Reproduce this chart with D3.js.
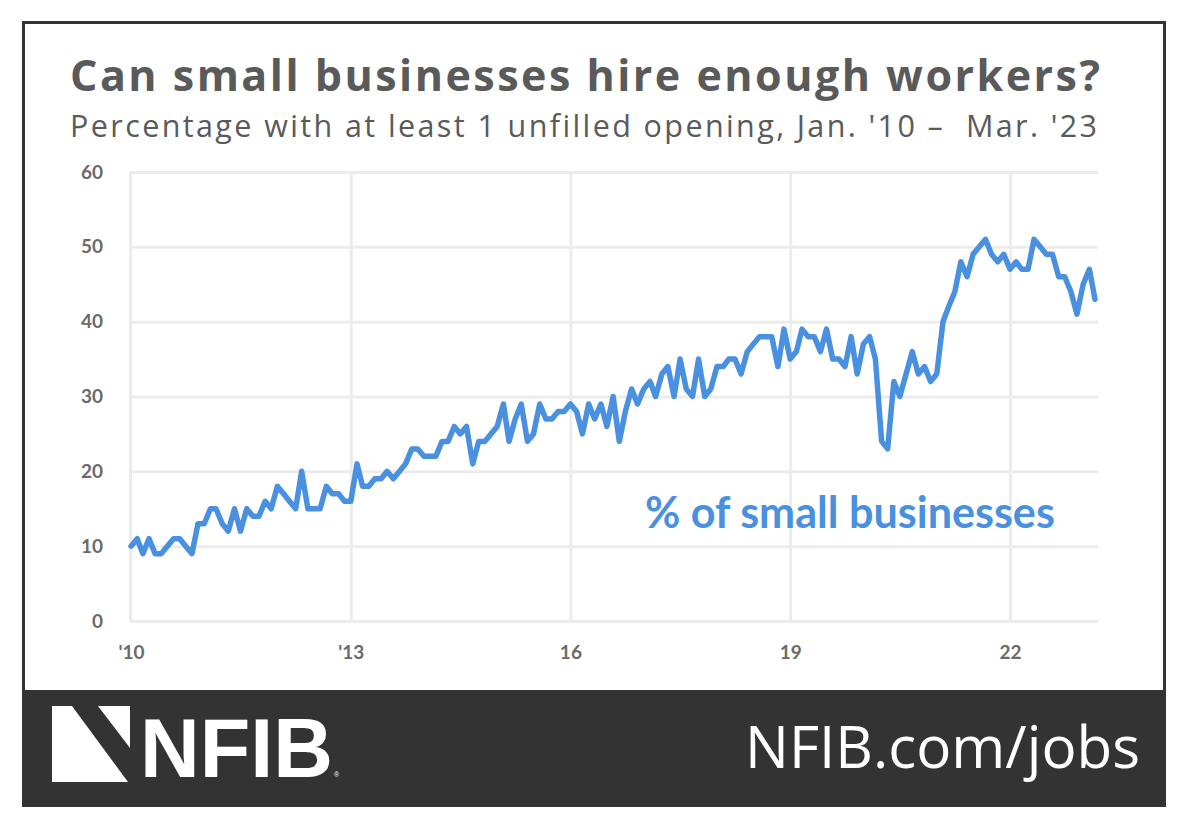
<!DOCTYPE html>
<html>
<head>
<meta charset="utf-8">
<script src="https://cdn.jsdelivr.net/npm/d3@7"></script>
<style>
  html, body { margin: 0; padding: 0; background: #ffffff; }
  svg { display: block; }
  text { white-space: pre; }
</style>
</head>
<body>
<svg id="chart" width="1182" height="822"></svg>
<script>
// ---- Data (monthly, Jan 2010 – Mar 2023) ----
const startYear = 2010;
const values2010 = [10, 11, 9, 11, 9, 9, 10, 11, 11, 10, 9, 13];
const values2011 = [13, 15, 15, 13, 12, 15, 12, 15, 14, 14, 16, 15];
const values2012 = [18, 17, 16, 15, 20, 15, 15, 15, 18, 17, 17, 16];
const values2013 = [16, 21, 18, 18, 19, 19, 20, 19, 20, 21, 23, 23];
const values2014 = [22, 22, 22, 24, 24, 26, 25, 26, 21, 24, 24, 25];
const values2015 = [26, 29, 24, 27, 29, 24, 25, 29, 27, 27, 28, 28];
const values2016 = [29, 28, 25, 29, 27, 29, 26, 30, 24, 28, 31, 29];
const values2017 = [31, 32, 30, 33, 34, 30, 35, 31, 30, 35, 30, 31];
const values2018 = [34, 34, 35, 35, 33, 36, 37, 38, 38, 38, 34, 39];
const values2019 = [35, 36, 39, 38, 38, 36, 39, 35, 35, 34, 38, 33];
const values2020 = [37, 38, 35, 24, 23, 32, 30, 33, 36, 33, 34, 32];
const values2021 = [33, 40, 42, 44, 48, 46, 49, 50, 51, 49, 48, 49];
const values2022 = [47, 48, 47, 47, 51, 50, 49, 49, 46, 46, 44, 41];
const values2023 = [45, 47, 43];

const seriesValues = [].concat(values2010, values2011, values2012, values2013, values2014,
  values2015, values2016, values2017, values2018, values2019, values2020, values2021,
  values2022, values2023);

const yTicks = [0, 10, 20, 30, 40, 50, 60];
const xTickYears = [2013, 2016, 2019, 2022];
const xTickLabels = ["'10", "'13", "16", "19", "22"];

const titleText = "Can small businesses hire enough workers?";
const subtitleText = "Percentage with at least 1 unfilled opening, Jan. '10 \u2013  Mar. '23";
const seriesLabel = "% of small businesses";
const footerUrl = "NFIB.com/jobs";
const logoText = "NFIB";

// ---- Build ----
const data = seriesValues.map((v, i) => ({
  date: new Date(startYear + Math.floor(i / 12), i % 12, 1),
  value: v
}));

const svg = d3.select("#chart");
const gray = "#5a5a5a";
const blue = "#4a90e0";
const dark = "#333333";

// frame
svg.append("rect").attr("x", 23.5).attr("y", 22.5).attr("width", 1141).attr("height", 783)
  .attr("fill", "#ffffff").attr("stroke", dark).attr("stroke-width", 3);
svg.append("rect").attr("x", 22).attr("y", 690).attr("width", 1144).attr("height", 117)
  .attr("fill", dark);

const plotLeft = 130, plotRight = 1098, plotTop = 172, plotBottom = 621;

const x = d3.scaleTime()
  .domain([new Date(2010, 0, 1), new Date(2023, 2, 1)])
  .range([131, 1095]);
const y = d3.scaleLinear().domain([0, 60]).range([plotBottom, plotTop]);

function fitText(sel, targetWidth) {
  const node = sel.node();
  let fs = parseFloat(sel.attr("font-size"));
  const w = node.getComputedTextLength();
  if (w > 0) sel.attr("font-size", (fs * targetWidth / w).toFixed(2));
  return sel;
}
function spaceText(sel, targetWidth) {
  const node = sel.node();
  const w = node.getComputedTextLength();
  const n = sel.text().length;
  if (w > 0 && n > 1) sel.attr("letter-spacing", ((targetWidth - w) / (n - 1)).toFixed(3));
  return sel;
}

// y grid + labels
const yAxis = d3.axisLeft(y)
  .tickValues(yTicks)
  .tickSize(-(plotRight - plotLeft))
  .tickPadding(27)
  .tickFormat(d3.format("d"));
const gy = svg.append("g").attr("transform", `translate(${plotLeft},0)`).call(yAxis);
gy.select(".domain").remove();
gy.selectAll(".tick line").attr("stroke", "#ececec").attr("stroke-width", 3);
gy.selectAll(".tick text")
  .attr("fill", "#6a6a6a").attr("font-family", "Lato, 'Open Sans', sans-serif")
  .attr("font-weight", "bold").attr("font-size", 19);

// x grid + labels
const xTickDates = [new Date(2010, 0, 1)].concat(xTickYears.map(yr => new Date(yr, 0, 1)));
const xAxis = d3.axisBottom(x)
  .tickValues(xTickDates)
  .tickSize(-(plotBottom - plotTop))
  .tickPadding(25)
  .tickFormat((d, i) => xTickLabels[i]);
const gx = svg.append("g").attr("transform", `translate(0,${plotBottom})`).call(xAxis);
gx.select(".domain").remove();
gx.selectAll(".tick line").attr("stroke", "#ececec").attr("stroke-width", 3);
gx.selectAll(".tick").filter((d, i) => i === 0).select("line")
  .attr("transform", `translate(${plotLeft - x(xTickDates[0])},0)`);
gx.selectAll(".tick text")
  .attr("fill", "#6a6a6a").attr("font-family", "Lato, 'Open Sans', sans-serif")
  .attr("font-weight", "bold").attr("font-size", 19);

// line
const line = d3.line().x(d => x(d.date)).y(d => y(d.value));
svg.append("path").datum(data)
  .attr("d", line)
  .attr("fill", "none")
  .attr("stroke", blue)
  .attr("stroke-width", 5.5)
  .attr("stroke-linejoin", "round")
  .attr("stroke-linecap", "round");

// series label
fitText(svg.append("text").attr("x", 645).attr("y", 528)
  .attr("fill", blue).attr("font-family", "Lato, 'Open Sans', sans-serif")
  .attr("font-weight", "bold").attr("font-size", 32).text(seriesLabel), 410);

// title & subtitle
spaceText(svg.append("text").attr("x", 70).attr("y", 91)
  .attr("fill", gray).attr("font-family", "'Open Sans', Lato, sans-serif")
  .attr("font-weight", "bold").attr("font-size", 43).text(titleText), 1030);
spaceText(svg.append("text").attr("x", 70).attr("y", 137)
  .attr("fill", gray).attr("font-family", "'Open Sans', Lato, sans-serif")
  .attr("font-weight", "normal").attr("font-size", 30.5).text(subtitleText), 1027);

// footer logo
const logo = svg.append("g").attr("fill", "#ffffff");
logo.append("polygon").attr("points", "52,706 72,706 128,782 52,782");
logo.append("polygon").attr("points", "98,706 130,706 130,748");
fitText(logo.append("text").attr("x", 140).attr("y", 777)
  .attr("font-family", "'Liberation Sans', Arial, sans-serif")
  .attr("font-weight", "bold").attr("font-size", 84).text(logoText), 193);
logo.append("text").attr("x", 334).attr("y", 777)
  .attr("font-family", "'Liberation Sans', Arial, sans-serif")
  .attr("font-size", 7).text("\u00AE");

fitText(svg.append("text").attr("x", 1140).attr("y", 768).attr("text-anchor", "end")
  .attr("fill", "#ffffff").attr("font-family", "'Open Sans', Lato, sans-serif")
  .attr("font-size", 50).text(footerUrl), 395);
</script>
</body>
</html>
